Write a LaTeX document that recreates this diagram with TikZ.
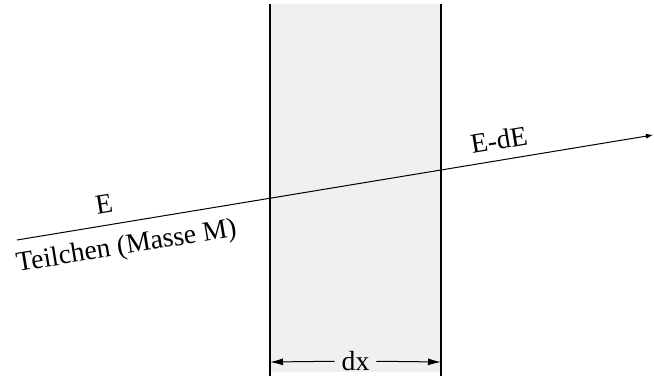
\documentclass[tikz,border=0pt]{standalone}
\usepackage{fontspec}
\setmainfont{Liberation Serif}
\usepackage{tikz}
\usetikzlibrary{arrows.meta, positioning}
\usepackage{xcolor}
\definecolor{slabgray}{RGB}{240, 240, 240}

\begin{document}
\begin{tikzpicture}[x=0.5pt, y=-0.5pt,
    wall/.style={line width=0.65pt, black},
    dimline/.style={line width=0.5pt, -{Latex[length=6.5pt, width=3.5pt]}},
    lbl/.style={font=\fontsize{13.85}{16}\selectfont}]
    \useasboundingbox (0,0) rectangle (654,376);

    % Absorber slab of thickness dx
    \fill[slabgray] (270,4) rectangle (441,372);
    \draw[wall] (270,4) -- (270,376);
    \draw[wall] (441,4) -- (441,376);

    % Particle track
    \coordinate (start) at (17,240);
    \coordinate (end) at (653,135);
    \draw[line width=0.5pt, -{Latex[length=3.5pt, width=2.6pt]}] (start) -- (end)
        node[lbl, pos=0.142, sloped, above=2.3pt] (ein) {E}
        node[lbl, pos=0.166, sloped, below=2.6pt] (teil) {Teilchen (Masse M)}
        node[lbl, pos=0.763, sloped, above=1.7pt] (eaus) {E-dE};

    % Thickness
    \node[lbl] (dx) at (355.5,361) {dx};
    \coordinate (dxl) at (270,362);
    \coordinate (dxr) at (441,362);
    \draw[dimline] (dx) -- (dxl);
    \draw[dimline] (dx) -- (dxr);
\end{tikzpicture}
\end{document}
